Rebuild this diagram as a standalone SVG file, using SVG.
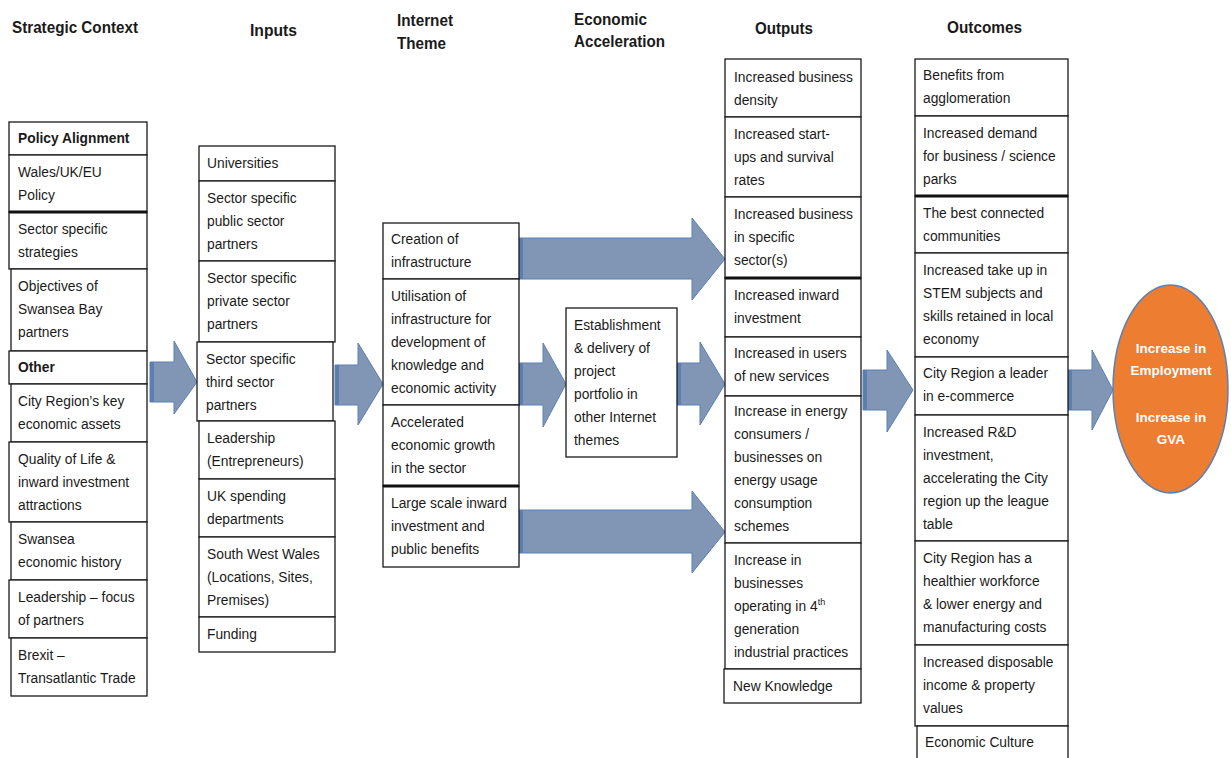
<svg xmlns="http://www.w3.org/2000/svg" width="1231" height="758" viewBox="0 0 1231 758">
<style>
.h{font-family:"Liberation Sans",Arial,sans-serif;font-weight:bold;font-size:17px;fill:#1a1a1a}
.t{font-family:"Liberation Sans",Arial,sans-serif;font-size:13.8px;fill:#1a1a1a}
.b{font-weight:bold}
.box{fill:#fff;stroke:#1a1a1a;stroke-width:1.3}
.thick{stroke:#111;stroke-width:3}
.arr{fill:#8096b4;stroke:#5b80b3;stroke-width:1}
.stripe{fill:#5a7fb0}
.e{font-family:"Liberation Sans",Arial,sans-serif;font-weight:bold;font-size:13.5px;fill:#fff;text-anchor:middle}
</style>
<rect width="1231" height="758" fill="#fff"/>

<g id="headings">
<text class="h" x="12" y="33" textLength="126" lengthAdjust="spacingAndGlyphs">Strategic Context</text>
<text class="h" x="250" y="36" textLength="47" lengthAdjust="spacingAndGlyphs">Inputs</text>
<text class="h" x="397" y="26" textLength="56" lengthAdjust="spacingAndGlyphs">Internet</text>
<text class="h" x="397" y="49" textLength="49" lengthAdjust="spacingAndGlyphs">Theme</text>
<text class="h" x="574" y="25" textLength="73" lengthAdjust="spacingAndGlyphs">Economic</text>
<text class="h" x="574" y="47" textLength="91" lengthAdjust="spacingAndGlyphs">Acceleration</text>
<text class="h" x="755" y="34" textLength="58" lengthAdjust="spacingAndGlyphs">Outputs</text>
<text class="h" x="947" y="33" textLength="75" lengthAdjust="spacingAndGlyphs">Outcomes</text>
</g>

<g id="connectors">
<polygon class="arr" points="150,362 174,362 174,341 197,382 174,414 174,402 150,402"/>
<rect class="stripe" x="150" y="362" width="4" height="40"/>
<polygon class="arr" points="335,365 358,365 358,343 383,384 358,425 358,405 335,405"/>
<rect class="stripe" x="335" y="365" width="4" height="40"/>
<polygon class="arr" points="519,238 692,238 692,218 725,259 692,300 692,279 519,279"/>
<rect class="stripe" x="519" y="238" width="4" height="41"/>
<polygon class="arr" points="519,363 543,363 543,343 566,384 543,427 543,405 519,405"/>
<rect class="stripe" x="519" y="363" width="4" height="42"/>
<polygon class="arr" points="677,363 700,363 700,342 725,384 700,425 700,405 677,405"/>
<rect class="stripe" x="677" y="363" width="4" height="42"/>
<polygon class="arr" points="519,510 692,510 692,491 725,532 692,573 692,553 519,553"/>
<rect class="stripe" x="519" y="510" width="4" height="43"/>
<polygon class="arr" points="863,370 887,370 887,350 913,390 887,432 887,410 863,410"/>
<rect class="stripe" x="863" y="370" width="4" height="40"/>
<polygon class="arr" points="1068,370 1092,370 1092,350 1113,390 1092,430 1092,410 1068,410"/>
<rect class="stripe" x="1068" y="370" width="4" height="40"/>
</g>

<g id="strategic-context">
<g id="policy-alignment"><rect class="box" x="9" y="122" width="138" height="33"/><text class="t b" x="18" y="143">Policy Alignment</text></g>
<g id="wales-policy"><rect class="box" x="9" y="155" width="138" height="57"/><text class="t" x="18" y="177">Wales/UK/EU</text><text class="t" x="18" y="200">Policy</text></g>
<g id="sector-strategies"><rect class="box" x="9" y="212" width="138" height="57"/><text class="t" x="18" y="234">Sector specific</text><text class="t" x="18" y="257">strategies</text></g>
<g id="objectives"><rect class="box" x="11" y="269" width="136" height="82"/><text class="t" x="18" y="291">Objectives of</text><text class="t" x="18" y="314">Swansea Bay</text><text class="t" x="18" y="337">partners</text></g>
<g id="other"><rect class="box" x="9" y="351" width="138" height="33"/><text class="t b" x="18" y="372">Other</text></g>
<g id="key-assets"><rect class="box" x="11" y="384" width="136" height="58"/><text class="t" x="18" y="406">City Region’s key</text><text class="t" x="18" y="429">economic assets</text></g>
<g id="quality-of-life"><rect class="box" x="9" y="442" width="138" height="80"/><text class="t" x="18" y="464">Quality of Life &amp;</text><text class="t" x="18" y="487">inward investment</text><text class="t" x="18" y="510">attractions</text></g>
<g id="swansea-history"><rect class="box" x="11" y="522" width="136" height="58"/><text class="t" x="18" y="544">Swansea</text><text class="t" x="18" y="567">economic history</text></g>
<g id="leadership-focus"><rect class="box" x="9" y="580" width="138" height="58"/><text class="t" x="18" y="602">Leadership – focus</text><text class="t" x="18" y="625">of partners</text></g>
<g id="brexit"><rect class="box" x="11" y="638" width="136" height="58"/><text class="t" x="18" y="660">Brexit –</text><text class="t" x="18" y="683">Transatlantic Trade</text></g>
<line class="thick" x1="9" y1="212" x2="147" y2="212"/>
</g>

<g id="inputs">
<g id="universities"><rect class="box" x="199" y="146" width="136" height="35"/><text class="t" x="207" y="168">Universities</text></g>
<g id="public-partners"><rect class="box" x="199" y="181" width="136" height="80"/><text class="t" x="207" y="203">Sector specific</text><text class="t" x="207" y="226">public sector</text><text class="t" x="207" y="249">partners</text></g>
<g id="private-partners"><rect class="box" x="199" y="261" width="136" height="81"/><text class="t" x="207" y="283">Sector specific</text><text class="t" x="207" y="306">private sector</text><text class="t" x="207" y="329">partners</text></g>
<g id="third-partners"><rect class="box" x="197" y="342" width="136" height="79"/><text class="t" x="206" y="364">Sector specific</text><text class="t" x="206" y="387">third sector</text><text class="t" x="206" y="410">partners</text></g>
<g id="leadership-entrepreneurs"><rect class="box" x="199" y="421" width="136" height="58"/><text class="t" x="207" y="443">Leadership</text><text class="t" x="207" y="466">(Entrepreneurs)</text></g>
<g id="uk-spending"><rect class="box" x="199" y="479" width="136" height="58"/><text class="t" x="207" y="501">UK spending</text><text class="t" x="207" y="524">departments</text></g>
<g id="south-west-wales"><rect class="box" x="199" y="537" width="136" height="80"/><text class="t" x="207" y="559">South West Wales</text><text class="t" x="207" y="582">(Locations, Sites,</text><text class="t" x="207" y="605">Premises)</text></g>
<g id="funding"><rect class="box" x="199" y="617" width="136" height="35"/><text class="t" x="207" y="639">Funding</text></g>
</g>

<g id="internet-theme">
<g id="creation"><rect class="box" x="383" y="223" width="136" height="56"/><text class="t" x="391" y="244">Creation of</text><text class="t" x="391" y="267">infrastructure</text></g>
<g id="utilisation"><rect class="box" x="383" y="279" width="136" height="126"/><text class="t" x="391" y="301">Utilisation of</text><text class="t" x="391" y="324">infrastructure for</text><text class="t" x="391" y="347">development of</text><text class="t" x="391" y="370">knowledge and</text><text class="t" x="391" y="393">economic activity</text></g>
<g id="accelerated"><rect class="box" x="383" y="405" width="136" height="81"/><text class="t" x="391" y="427">Accelerated</text><text class="t" x="391" y="450">economic growth</text><text class="t" x="391" y="473">in the sector</text></g>
<g id="large-scale"><rect class="box" x="383" y="486" width="136" height="81"/><text class="t" x="391" y="508">Large scale inward</text><text class="t" x="391" y="531">investment and</text><text class="t" x="391" y="554">public benefits</text></g>
<line class="thick" x1="383" y1="486" x2="519" y2="486"/>
</g>

<g id="establishment"><rect class="box" x="566" y="308" width="111" height="149"/><text class="t" x="574" y="330">Establishment</text><text class="t" x="574" y="353">&amp; delivery of</text><text class="t" x="574" y="376">project</text><text class="t" x="574" y="399">portfolio in</text><text class="t" x="574" y="422">other Internet</text><text class="t" x="574" y="445">themes</text></g>

<g id="outputs">
<g id="business-density"><rect class="box" x="725" y="59" width="136" height="58"/><text class="t" x="734" y="82">Increased business</text><text class="t" x="734" y="105">density</text></g>
<g id="start-ups"><rect class="box" x="725" y="117" width="136" height="80"/><text class="t" x="734" y="139">Increased start-</text><text class="t" x="734" y="162">ups and survival</text><text class="t" x="734" y="185">rates</text></g>
<g id="specific-sectors"><rect class="box" x="725" y="197" width="136" height="81"/><text class="t" x="734" y="219">Increased business</text><text class="t" x="734" y="242">in specific</text><text class="t" x="734" y="265">sector(s)</text></g>
<g id="inward-investment"><rect class="box" x="725" y="278" width="136" height="59"/><text class="t" x="734" y="300">Increased inward</text><text class="t" x="734" y="323">investment</text></g>
<g id="users-new-services"><rect class="box" x="725" y="337" width="136" height="59"/><text class="t" x="734" y="358">Increased in users</text><text class="t" x="734" y="381">of new services</text></g>
<g id="energy-consumers"><rect class="box" x="725" y="396" width="136" height="147"/><text class="t" x="734" y="416">Increase in energy</text><text class="t" x="734" y="439">consumers /</text><text class="t" x="734" y="462">businesses on</text><text class="t" x="734" y="485">energy usage</text><text class="t" x="734" y="508">consumption</text><text class="t" x="734" y="531">schemes</text></g>
<g id="fourth-generation"><rect class="box" x="725" y="543" width="136" height="126"/><text class="t" x="734" y="565">Increase in</text><text class="t" x="734" y="588">businesses</text><text class="t" x="734" y="611">operating in 4<tspan font-size="9" dy="-6">th</tspan></text><text class="t" x="734" y="634">generation</text><text class="t" x="734" y="657">industrial practices</text></g>
<g id="new-knowledge"><rect class="box" x="724" y="669" width="137" height="34"/><text class="t" x="733" y="691">New Knowledge</text></g>
<line class="thick" x1="725" y1="278" x2="861" y2="278"/>
</g>

<g id="outcomes">
<g id="agglomeration"><rect class="box" x="915" y="59" width="153" height="57"/><text class="t" x="923" y="80">Benefits from</text><text class="t" x="923" y="103">agglomeration</text></g>
<g id="science-parks"><rect class="box" x="915" y="116" width="153" height="80"/><text class="t" x="923" y="138">Increased demand</text><text class="t" x="923" y="161">for business / science</text><text class="t" x="923" y="184">parks</text></g>
<g id="connected-communities"><rect class="box" x="915" y="196" width="153" height="57"/><text class="t" x="923" y="218">The best connected</text><text class="t" x="923" y="241">communities</text></g>
<g id="stem"><rect class="box" x="915" y="253" width="153" height="104"/><text class="t" x="923" y="275">Increased take up in</text><text class="t" x="923" y="298">STEM subjects and</text><text class="t" x="923" y="321">skills retained in local</text><text class="t" x="923" y="344">economy</text></g>
<g id="e-commerce"><rect class="box" x="915" y="357" width="153" height="58"/><text class="t" x="923" y="378">City Region a leader</text><text class="t" x="923" y="401">in e-commerce</text></g>
<g id="rd-investment"><rect class="box" x="915" y="415" width="153" height="126"/><text class="t" x="923" y="437">Increased R&amp;D</text><text class="t" x="923" y="460">investment,</text><text class="t" x="923" y="483">accelerating the City</text><text class="t" x="923" y="506">region up the league</text><text class="t" x="923" y="529">table</text></g>
<g id="healthier-workforce"><rect class="box" x="915" y="541" width="153" height="104"/><text class="t" x="923" y="563">City Region has a</text><text class="t" x="923" y="586">healthier workforce</text><text class="t" x="923" y="609">&amp; lower energy and</text><text class="t" x="923" y="632">manufacturing costs</text></g>
<g id="disposable-income"><rect class="box" x="915" y="645" width="153" height="81"/><text class="t" x="923" y="667">Increased disposable</text><text class="t" x="923" y="690">income &amp; property</text><text class="t" x="923" y="713">values</text></g>
<g id="economic-culture"><rect class="box" x="917" y="726" width="151" height="40"/><text class="t" x="925" y="747">Economic Culture</text></g>
<line class="thick" x1="915" y1="196" x2="1068" y2="196"/>
</g>

<g id="impact">
<ellipse cx="1170.5" cy="389" rx="57.5" ry="104" fill="#ed7d31" stroke="#5b80b3" stroke-width="1.5"/>
<text class="e" x="1171" y="353">Increase in</text>
<text class="e" x="1171" y="375">Employment</text>
<text class="e" x="1171" y="422">Increase in</text>
<text class="e" x="1171" y="444">GVA</text>
</g>
</svg>
